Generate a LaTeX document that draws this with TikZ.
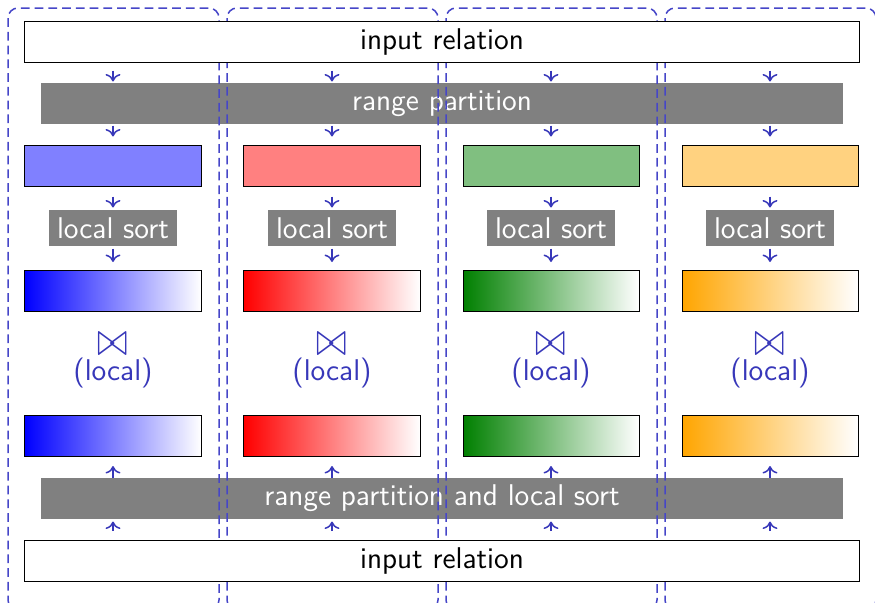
\documentclass[tikz,border=0pt]{standalone}
\usetikzlibrary{arrows.meta}
\definecolor{flowblue}{RGB}{55,55,185}
\definecolor{frameblue}{RGB}{70,70,200}
\definecolor{webOrange}{RGB}{255,165,0}
\begin{document}
\begin{tikzpicture}[x=0.4pt, y=-0.4pt, font=\sffamily\large,
		relbox/.style={draw, fill=white, minimum width=333.6pt, minimum height=16.4pt, inner sep=0pt},
		opbox/.style={fill=gray, text=white, minimum height=16.4pt, inner sep=0pt},
		sortbox/.style={fill=gray, text=white, minimum height=14.4pt, inner xsep=3.4pt, inner ysep=0pt},
		part/.style={draw, minimum width=70.4pt, minimum height=16.4pt, inner sep=0pt},
		frame/.style={draw=frameblue, line width=0.6pt, dash pattern=on 3.5pt off 2pt, rounded corners=4pt},
		flow/.style={draw=flowblue, line width=0.6pt, -{To[length=3pt,width=6pt]}}]
	\clip (0,0) rectangle (875,602);
	\useasboundingbox (0,0) rectangle (875,602);
	% shared operators
	\node[opbox, minimum width=320.8pt] (rangepart) at (442,103.5) {range partition};
	\node[opbox, minimum width=320.8pt] (rangesort) at (442,498.5) {range partition and local sort};
	% one frame per worker
	\foreach \i in {0,...,3}
		\draw[frame] (8+219*\i,8) rectangle +(211,602);
	\node[relbox] (inTop) at (442,41.5) {input relation};
	\node[relbox] (inBot) at (442,561) {input relation};
	\foreach \c/\col [count=\i] in {113/blue, 332/red, 551/green!50!black, 770/webOrange}{
		\node[part, fill=\col!50] (chunk\i) at (\c,165.5) {};
		\node[sortbox] (sort\i) at (\c,228) {local sort};
		\node[part, left color=\col, right color=white] (sorted\i) at (\c,291) {};
		\node[text=flowblue, inner sep=0pt, align=center, anchor=south] (join\i) at (\c,389)
			{\scalebox{1.25}[1.6]{$\bowtie$}\\[-4pt](local)};
		\node[part, left color=\col, right color=white] (other\i) at (\c,436) {};
		\draw[flow, shorten <=3.2pt, shorten >=0.4pt] (inTop.south -| chunk\i) -- (rangepart.north -| chunk\i);
		\draw[flow, shorten <=0.4pt, shorten >=3.2pt] (rangepart.south -| chunk\i) -- (chunk\i.north);
		\draw[flow, shorten <=4pt, shorten >=0.8pt] (chunk\i) -- (sort\i);
		\draw[flow, shorten <=0.8pt, shorten >=3.2pt] (sort\i) -- (sorted\i);
		\draw[flow, shorten >=3.6pt] (rangesort.north -| other\i) -- (other\i.south);
		\draw[flow, shorten <=3.6pt, shorten >=0.8pt] (inBot.north -| other\i) -- (rangesort.south -| other\i);
	}
\end{tikzpicture}
\end{document}
